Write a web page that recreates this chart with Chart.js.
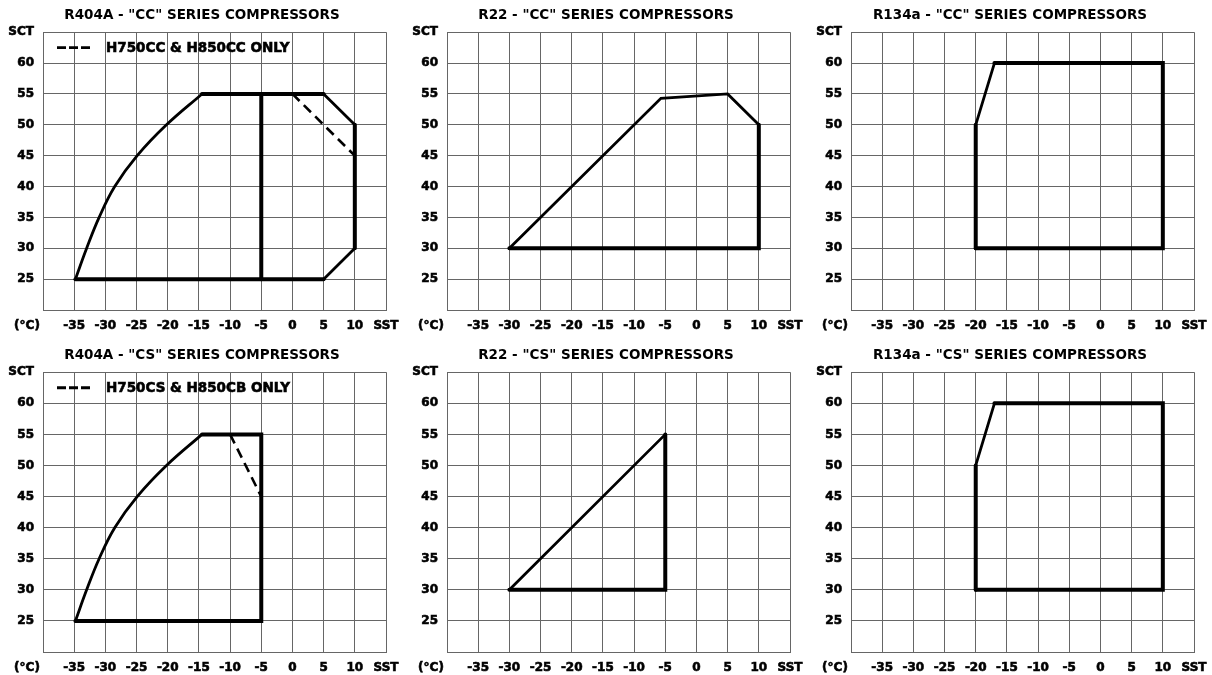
<!DOCTYPE html>
<html>
<head>
<meta charset="utf-8">
<script src="https://cdn.jsdelivr.net/npm/chart.js@4"></script>
<style>
  body { margin: 0; background: #fff; }
  #wrap { display: grid; grid-template-columns: 404px 404px 404px; grid-template-rows: 340px 335px; width: 1212px; height: 675px; }
  canvas { display: block; }
</style>
</head>
<body>
<div id="wrap">
  <div><canvas id="c1" width="404" height="340"></canvas></div>
  <div><canvas id="c2" width="404" height="340"></canvas></div>
  <div><canvas id="c3" width="404" height="340"></canvas></div>
  <div><canvas id="c4" width="404" height="335"></canvas></div>
  <div><canvas id="c5" width="404" height="335"></canvas></div>
  <div><canvas id="c6" width="404" height="335"></canvas></div>
</div>
<script>
// axis ticks
const sstTicks = [-40, -35, -30, -25, -20, -15, -10, -5, 0, 5, 10, 15];
const sctTicks = [20, 25, 30, 35, 40, 45, 50, 55, 60, 65];

// R404A curved low side (same for CC and CS)
const r404aCurveSst = [-34.8, -33, -31, -28.5, -24.9, -20.2, -14.5];
const r404aCurveSct = [25, 30, 35, 40, 45, 50, 55];

// R404A CC
const r404aCcSst = [-14.5, 5, 10, 10, 5, -34.8];
const r404aCcSct = [55, 55, 50, 30, 25, 25];
const r404aCcSplitSst = [-5, -5];
const r404aCcSplitSct = [25, 55];
const r404aCcDashSst = [0, 10];
const r404aCcDashSct = [55, 45];

// R22 CC
const r22CcSst = [-30, -5.7, 5, 10, 10, -30];
const r22CcSct = [30, 54.3, 55, 50, 30, 30];

// R134a CC / CS
const r134aSst = [-20, -20, -17, 10, 10, -20];
const r134aSct = [30, 50, 60, 60, 30, 30];

// R404A CS
const r404aCsSst = [-14.5, -5, -5, -34.8];
const r404aCsSct = [55, 55, 25, 25];
const r404aCsDashSst = [-10, -5];
const r404aCsDashSct = [55, 45];

// R22 CS
const r22CsSst = [-30, -5, -5, -30];
const r22CsSct = [30, 55, 30, 30];

const FONTE = "'DejaVu Sans', sans-serif";
const GRADE = '#666666';

Chart.defaults.font.family = FONTE;
Chart.defaults.font.weight = 'bold';
Chart.defaults.font.size = 12;
Chart.defaults.color = '#000';

function pts(xs, ys){
    return xs.map((x, i) => ({ x: x, y: ys[i] }));
}

// straight edges thick, sloped edges thinner
function edge(xs, ys){
    return {
        data: pts(xs, ys),
        borderColor: '#000',
        borderWidth: 4,
        borderCapStyle: 'round',
        segment: {
            borderWidth: ctx => (ctx.p0.parsed.x === ctx.p1.parsed.x || ctx.p0.parsed.y === ctx.p1.parsed.y) ? 4 : 2.8
        }
    };
}

function curve(xs, ys){
    return { data: pts(xs, ys), borderColor: '#000', borderWidth: 2.8, tension: 0.4, borderCapStyle: 'round' };
}

function dashed(xs, ys){
    return { data: pts(xs, ys), borderColor: '#000', borderWidth: 2.6, borderDash: [10, 6] };
}

function texto(ctx, s, x, y){
    ctx.strokeText(s, x, y);
    ctx.fillText(s, x, y);
}

// "(°C)" label and the in-plot dashed legend
const extras = {
    id: 'extras',
    afterDraw(chart, args, opts){
        const ctx = chart.ctx;
        const area = chart.chartArea;
        ctx.save();
        ctx.fillStyle = '#000';
        ctx.strokeStyle = '#000';
        ctx.lineWidth = 0.6;
        ctx.font = "bold 12px " + FONTE;
        ctx.textAlign = 'center';
        ctx.textBaseline = 'middle';
        texto(ctx, '(°C)', area.left - 16, area.bottom + 16);
        if(opts.legend){
            const y = chart.scales.y.getPixelForValue(62.5);
            ctx.lineWidth = 2.8;
            ctx.setLineDash([9, 3]);
            ctx.beginPath();
            ctx.moveTo(area.left + 14, y);
            ctx.lineTo(area.left + 49, y);
            ctx.stroke();
            ctx.setLineDash([]);
            ctx.lineWidth = 0.6;
            ctx.font = "bold 13.5px " + FONTE;
            ctx.textAlign = 'left';
            texto(ctx, opts.legend, area.left + 63, y + 1);
        }
        ctx.restore();
    }
};

function crearGrafico(id, titulo, datasets, altoEjeX, legenda){
    new Chart(document.getElementById(id), {
        type: 'scatter',
        data: { datasets: datasets.map(d => Object.assign({ showLine: true, pointRadius: 0, fill: false }, d)) },
        plugins: [extras],
        options: {
            responsive: false,
            animation: false,
            layout: { padding: 0 },
            plugins: {
                legend: { display: false },
                tooltip: { enabled: false },
                title: { display: true, text: titulo, padding: { top: 7, bottom: 9 }, font: { size: 13.5, weight: 'bold' } },
                extras: { legend: legenda }
            },
            scales: {
                x: {
                    type: 'linear',
                    min: sstTicks[0], max: sstTicks[sstTicks.length - 1],
                    afterBuildTicks: s => { s.ticks = sstTicks.map(v => ({ value: v })); },
                    afterFit: s => { s.height = altoEjeX; s.paddingLeft = 0; s.paddingRight = 18; },
                    grid: { color: GRADE, lineWidth: 1, drawTicks: false },
                    border: { color: GRADE },
                    ticks: { padding: 9, maxRotation: 0, autoSkip: false, textStrokeColor: '#000', textStrokeWidth: 0.6,
                        callback: v => v === 15 ? 'SST' : (v === -40 ? '' : v) }
                },
                y: {
                    min: sctTicks[0], max: sctTicks[sctTicks.length - 1],
                    afterBuildTicks: s => { s.ticks = sctTicks.map(v => ({ value: v })); },
                    afterFit: s => { s.width = 43; },
                    grid: { color: GRADE, lineWidth: 1, drawTicks: false },
                    border: { color: GRADE },
                    ticks: { padding: 9, autoSkip: false, textStrokeColor: '#000', textStrokeWidth: 0.6,
                        callback: v => v === 65 ? 'SCT' : (v === 20 ? '' : v) }
                }
            }
        }
    });
}

crearGrafico('c1', 'R404A - "CC" SERIES COMPRESSORS', [
    curve(r404aCurveSst, r404aCurveSct),
    edge(r404aCcSst, r404aCcSct),
    edge(r404aCcSplitSst, r404aCcSplitSct),
    dashed(r404aCcDashSst, r404aCcDashSct)
], 30, 'H750CC & H850CC ONLY');

crearGrafico('c2', 'R22 - "CC" SERIES COMPRESSORS', [ edge(r22CcSst, r22CcSct) ], 30);

crearGrafico('c3', 'R134a - "CC" SERIES COMPRESSORS', [ edge(r134aSst, r134aSct) ], 30);

crearGrafico('c4', 'R404A - "CS" SERIES COMPRESSORS', [
    curve(r404aCurveSst, r404aCurveSct),
    edge(r404aCsSst, r404aCsSct),
    dashed(r404aCsDashSst, r404aCsDashSct)
], 23, 'H750CS & H850CB ONLY');

crearGrafico('c5', 'R22 - "CS" SERIES COMPRESSORS', [ edge(r22CsSst, r22CsSct) ], 23);

crearGrafico('c6', 'R134a - "CS" SERIES COMPRESSORS', [ edge(r134aSst, r134aSct) ], 23);
</script>
</body>
</html>
